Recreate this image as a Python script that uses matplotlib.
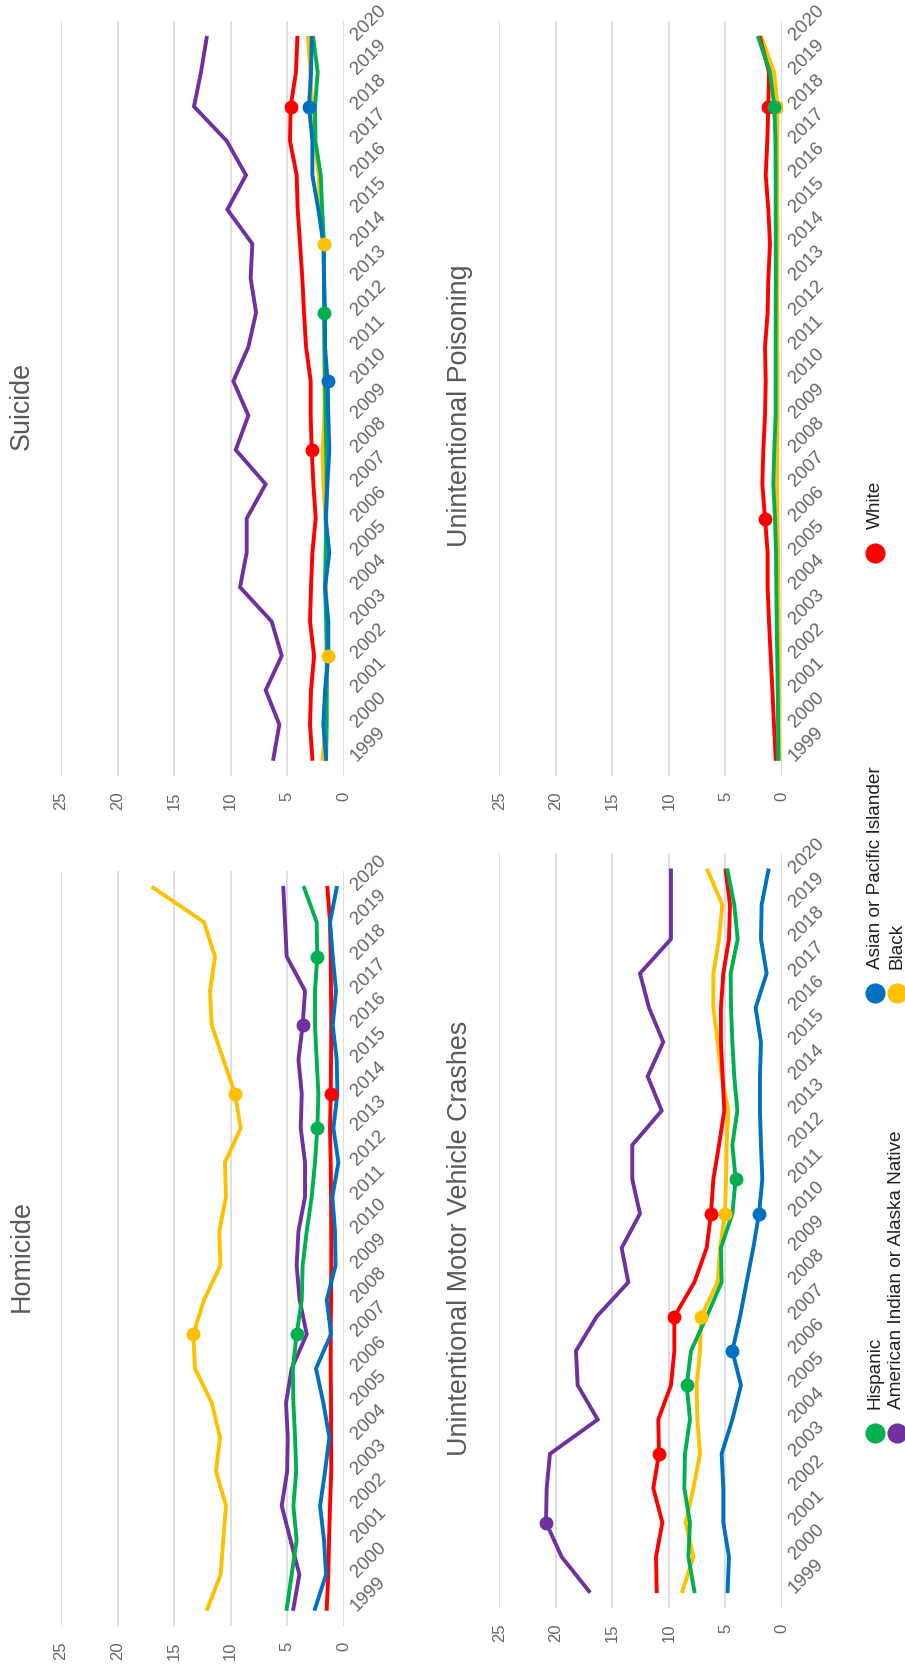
import numpy as np
import matplotlib
matplotlib.use("Agg")
import matplotlib.pyplot as plt

plt.rcParams["font.family"] = ["Liberation Sans", "DejaVu Sans"]

W, H = 905, 1667                      # output size in px (dpi 100)
YEARS = list(range(1999, 2021))
VALUE_TICKS = [0, 5, 10, 15, 20, 25]

GROUPS = ["Hispanic", "American Indian or Alaska Native", "Asian or Pacific Islander", "Black", "White"]
COLORS = {"Hispanic": "#00B050", "American Indian or Alaska Native": "#7030A0",
          "Asian or Pacific Islander": "#0070C0", "Black": "#FFC000", "White": "#FF0000"}
DRAW_ORDER = ["American Indian or Alaska Native", "Black", "White", "Hispanic", "Asian or Pacific Islander"]

# ---- rates per 100k, 1999..2020 ----
HOM_HISP  = [5.04, 4.6, 4.16, 4.45, 4.2, 4.3, 4.45, 4.5, 4.16, 3.71, 3.63, 3.27, 2.83, 2.54, 2.33, 2.24, 2.39, 2.54, 2.54, 2.33, 2.39, 3.5]
HOM_AIAN  = [4.45, 3.92, 4.7, 5.48, 5.0, 4.95, 5.1, 4.6, 3.27, 3.9, 4.16, 4.0, 3.42, 3.42, 3.8, 3.71, 4.0, 3.63, 3.42, 5.04, 5.19, 5.34]
HOM_ASIAN = [2.54, 1.56, 1.74, 2.09, 1.65, 1.27, 1.8, 2.45, 1.12, 1.5, 0.72, 0.77, 1.0, 0.47, 0.91, 0.56, 0.62, 0.97, 0.68, 0.97, 1.21, 0.62]
HOM_BLACK = [12.06, 10.88, 10.65, 10.41, 11.29, 10.94, 11.67, 13.15, 13.3, 12.35, 10.9, 11.0, 10.41, 10.5, 9.11, 9.61, 10.64, 11.67, 11.82, 11.38, 12.35, 16.83]
HOM_WHITE = [1.5, 1.36, 1.3, 1.21, 1.1, 1.12, 1.12, 1.15, 1.15, 1.12, 1.1, 1.1, 1.12, 1.15, 1.21, 1.15, 1.12, 1.1, 1.12, 1.15, 1.21, 1.44]

SUI_HISP  = [1.56, 1.5, 1.5, 1.5, 1.55, 1.65, 1.6, 1.55, 1.5, 1.55, 1.6, 1.65, 1.7, 1.74, 1.74, 1.74, 1.9, 2.03, 2.5, 2.54, 2.3, 2.7]
SUI_AIAN  = [6.22, 5.69, 6.9, 5.48, 6.37, 9.17, 8.58, 8.58, 6.9, 9.55, 8.43, 9.76, 8.43, 7.75, 8.23, 8.08, 10.29, 8.64, 10.35, 13.24, 12.62, 12.12]
SUI_ASIAN = [1.56, 1.8, 1.65, 1.36, 1.36, 1.65, 1.27, 1.59, 1.44, 1.27, 1.36, 1.42, 1.65, 1.65, 1.74, 1.8, 2.24, 2.77, 2.77, 3.07, 2.89, 2.83]
SUI_BLACK = [1.86, 1.6, 1.5, 1.42, 1.5, 1.55, 1.55, 1.6, 1.8, 1.86, 1.7, 1.7, 1.7, 1.72, 1.74, 1.74, 2.1, 2.2, 2.6, 2.8, 2.95, 3.15]
SUI_WHITE = [2.77, 2.98, 2.89, 2.62, 2.98, 2.89, 2.77, 2.48, 2.68, 2.83, 2.92, 2.92, 3.33, 3.51, 3.66, 3.86, 4.07, 4.16, 4.75, 4.69, 4.22, 4.1]

MVC_HISP  = [7.75, 8.28, 8.14, 8.64, 8.58, 8.14, 8.43, 8.05, 6.66, 5.34, 5.4, 4.39, 4.1, 4.39, 3.95, 4.22, 4.39, 4.51, 4.54, 3.92, 4.22, 4.81]
MVC_AIAN  = [17.07, 19.49, 20.87, 20.81, 20.52, 16.3, 18.07, 18.22, 16.39, 13.59, 14.18, 12.56, 13.24, 13.24, 10.64, 11.88, 10.5, 11.76, 12.56, 9.82, 9.82, 9.82]
MVC_ASIAN = [4.81, 4.69, 5.19, 5.19, 5.34, 4.39, 3.63, 4.39, 3.71, 3.13, 2.54, 2.03, 1.74, 1.86, 1.95, 1.95, 1.86, 2.33, 1.36, 1.86, 1.8, 1.21]
MVC_BLACK = [8.81, 7.84, 8.52, 7.84, 7.25, 7.49, 7.55, 7.25, 7.16, 5.69, 5.48, 5.04, 4.95, 4.89, 4.75, 5.34, 5.69, 6.07, 6.07, 5.57, 5.28, 6.57]
MVC_WHITE = [11.08, 11.14, 10.58, 11.38, 10.88, 10.94, 9.82, 9.52, 9.52, 7.75, 6.66, 6.28, 6.07, 5.57, 5.1, 5.25, 5.4, 5.4, 5.19, 4.69, 4.6, 4.98]

POI_HISP  = [0.32, 0.35, 0.38, 0.42, 0.47, 0.5, 0.53, 0.62, 0.77, 0.68, 0.56, 0.56, 0.56, 0.56, 0.55, 0.55, 0.56, 0.56, 0.58, 0.68, 1.06, 2.09]
POI_BLACK = [0.25, 0.27, 0.27, 0.28, 0.3, 0.32, 0.35, 0.4, 0.45, 0.42, 0.4, 0.4, 0.42, 0.42, 0.42, 0.4, 0.42, 0.42, 0.42, 0.4, 0.7, 1.8]
POI_WHITE = [0.56, 0.71, 0.85, 1.0, 1.15, 1.27, 1.27, 1.5, 1.74, 1.65, 1.5, 1.44, 1.5, 1.27, 1.21, 1.06, 1.21, 1.44, 1.3, 1.21, 1.15, 1.95]

# highlighted points (years) per panel/group
HOM_MARKS = {"Black": [2007, 2014], "Hispanic": [2007, 2013, 2018],
             "American Indian or Alaska Native": [2016], "White": [2014]}
SUI_MARKS = {"White": [2008, 2018], "Asian or Pacific Islander": [2010, 2018],
             "Black": [2002, 2014], "Hispanic": [2012]}
MVC_MARKS = {"American Indian or Alaska Native": [2001], "White": [2003, 2007, 2010],
             "Hispanic": [2005, 2011], "Asian or Pacific Islander": [2006, 2010], "Black": [2007, 2010]}
POI_MARKS = {"White": [2006, 2018], "Black": [2018], "Hispanic": [2018]}

PANELS = [
    ("Homicide", {"Hispanic": HOM_HISP, "American Indian or Alaska Native": HOM_AIAN,
                  "Asian or Pacific Islander": HOM_ASIAN, "Black": HOM_BLACK, "White": HOM_WHITE},
     HOM_MARKS, (61, 343.7, 870.7, 1626), (22, 1256)),
    ("Suicide", {"Hispanic": SUI_HISP, "American Indian or Alaska Native": SUI_AIAN,
                 "Asian or Pacific Islander": SUI_ASIAN, "Black": SUI_BLACK, "White": SUI_WHITE},
     SUI_MARKS, (61, 343.7, 20.7, 776), (22, 406)),
    ("Unintentional Motor Vehicle Crashes", {"Hispanic": MVC_HISP, "American Indian or Alaska Native": MVC_AIAN,
                 "Asian or Pacific Islander": MVC_ASIAN, "Black": MVC_BLACK, "White": MVC_WHITE},
     MVC_MARKS, (499.3, 782, 853.3, 1608.3), (460, 1238)),
    ("Unintentional Poisoning", {"Hispanic": POI_HISP, "Black": POI_BLACK, "White": POI_WHITE},
     POI_MARKS, (499.3, 782, 20.7, 776), (460, 406)),
]

GRID_C = "#d9d9d9"
TICK_C = "#666666"
TITLE_C = "#595959"

fig = plt.figure(figsize=(W / 100, H / 100), dpi=100)
fig.patch.set_facecolor("white")

for title, series, marks, (x0, x1, y0, y1), (tx, ty) in PANELS:
    ax = fig.add_axes([x0 / W, 1 - y1 / H, (x1 - x0) / W, (y1 - y0) / H])
    for g in DRAW_ORDER:
        if g not in series:
            continue
        ax.plot(series[g], YEARS, color=COLORS[g], lw=2.8, solid_joinstyle="miter", zorder=3)
    for g in DRAW_ORDER:
        if g not in marks:
            continue
        vals = np.array(series[g])
        idx = [YEARS.index(y) for y in marks[g]]
        ax.plot(vals[idx], np.array(YEARS)[idx], "o", color=COLORS[g], ms=9, zorder=4)
    ax.set_xlim(25, 0)
    ax.set_ylim(1998.5, 2020.5)
    ax.set_xticks(VALUE_TICKS)
    ax.set_xticklabels([str(v) for v in VALUE_TICKS], rotation=90, color=TICK_C, fontsize=12)
    ax.yaxis.tick_right()
    ax.set_yticks(YEARS)
    ax.set_yticklabels([str(y) for y in YEARS], rotation=45, ha="left", va="center",
                       rotation_mode="anchor", color=TICK_C, fontsize=13.5)
    ax.tick_params(axis="x", length=0, pad=11)
    ax.tick_params(axis="y", length=0, pad=7)
    ax.grid(axis="x", color=GRID_C, lw=1.2)
    ax.set_axisbelow(True)
    for s in ax.spines.values():
        s.set_visible(False)
    fig.text(tx / W, 1 - ty / H, title, rotation=90, ha="center", va="center",
             fontsize=19.4, color=TITLE_C)

# legend drawn by hand (rotated layout), in pixel coordinates
lg = fig.add_axes([0, 0, 1, 1])
lg.set_xlim(0, W)
lg.set_ylim(H, 0)
lg.axis("off")
LEG_COL_Y = [1433, 993, 553]
LEG_ROW_X = [875, 896.5]
for i, g in enumerate(GROUPS):
    cy = LEG_COL_Y[i // 2]
    cx = LEG_ROW_X[i % 2]
    lg.plot([cx], [cy], "o", color=COLORS[g], ms=13.5, clip_on=False)
    lg.text(cx, cy - 24, g, rotation=90, ha="center", va="bottom", fontsize=13.7, color="#222222")

fig.savefig("out.png", dpi=100)
